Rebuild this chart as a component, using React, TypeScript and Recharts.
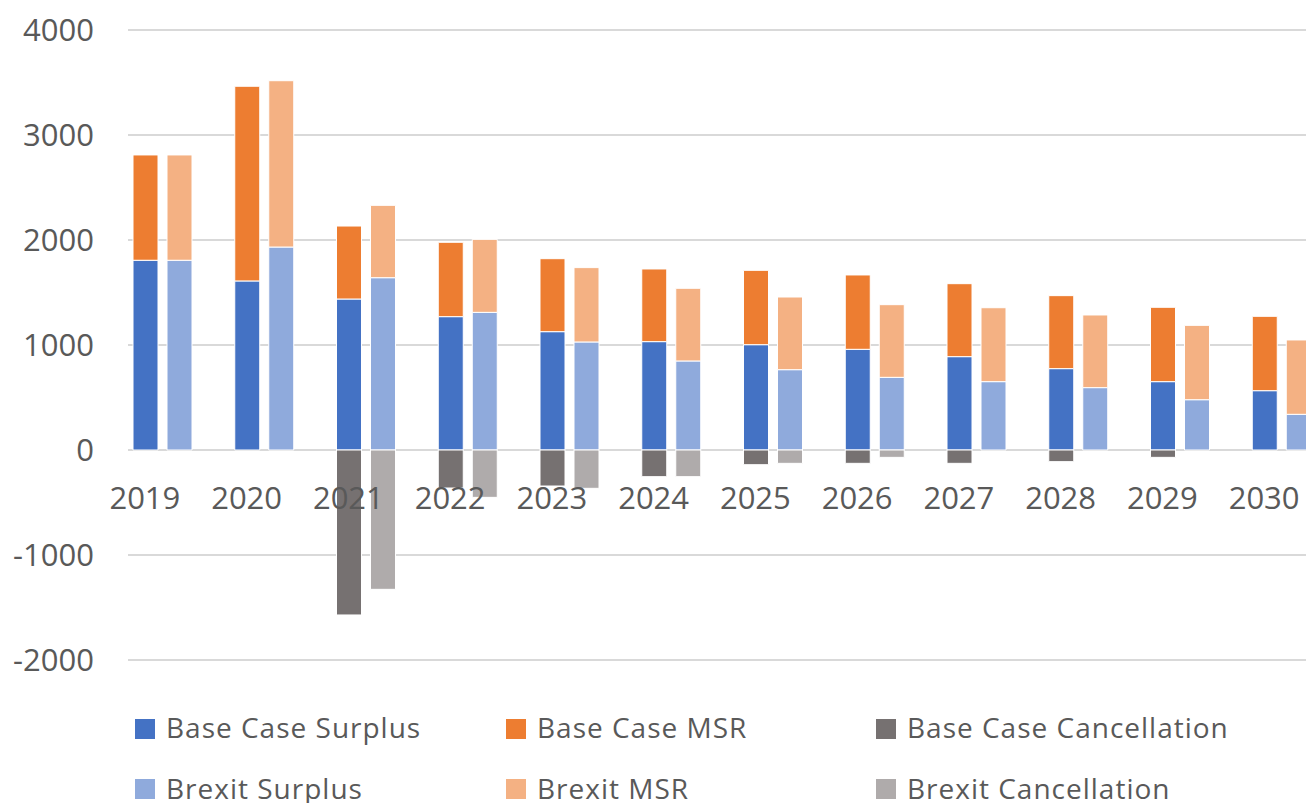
import { BarChart, Bar, XAxis, YAxis, CartesianGrid, Legend } from "recharts";

const years = ["2019", "2020", "2021", "2022", "2023", "2024", "2025", "2026", "2027", "2028", "2029", "2030"];

const baseSurplus = [1807, 1610, 1438, 1270, 1127, 1032, 1003, 959, 889, 775, 651, 565];
const baseMsr = [1003, 1854, 695, 708, 695, 692, 708, 708, 695, 695, 708, 708];
const baseCancellation = [0, 0, -1571, -362, -343, -254, -140, -127, -127, -111, -70, 0];

const brexitSurplus = [1807, 1933, 1641, 1311, 1029, 848, 765, 692, 651, 594, 479, 340];
const brexitMsr = [1003, 1584, 689, 695, 708, 692, 692, 692, 704, 692, 708, 708];
const brexitCancellation = [0, 0, -1327, -451, -365, -254, -127, -70, 0, 0, 0, 0];

const yTicks = [-2000, -1000, 0, 1000, 2000, 3000, 4000];

const series = [
  { key: "baseSurplus", name: "Base Case Surplus", color: "#4472C4", stack: "base" },
  { key: "baseMsr", name: "Base Case MSR", color: "#ED7D31", stack: "base" },
  { key: "baseCancellation", name: "Base Case Cancellation", color: "#767171", stack: "base" },
  { key: "brexitSurplus", name: "Brexit Surplus", color: "#8FAADC", stack: "brexit" },
  { key: "brexitMsr", name: "Brexit MSR", color: "#F4B183", stack: "brexit" },
  { key: "brexitCancellation", name: "Brexit Cancellation", color: "#AFABAB", stack: "brexit" },
];

const chartData = years.map((year, i) => ({
  year,
  baseSurplus: baseSurplus[i],
  baseMsr: baseMsr[i],
  baseCancellation: baseCancellation[i],
  brexitSurplus: brexitSurplus[i],
  brexitMsr: brexitMsr[i],
  brexitCancellation: brexitCancellation[i],
}));

const TEXT = "#595959";
const FONT = "'Open Sans', sans-serif";

// year labels sit just under the zero line, not at the bottom of the plot
function YearTick(props: any) {
  const { x, y, payload } = props;
  return (
    <text x={x - 18} y={y - 159} textAnchor="middle" fill={TEXT} fontSize={31} fontFamily={FONT}>
      {payload.value}
    </text>
  );
}

function LegendGrid() {
  const cols = [135, 506, 876];
  return (
    <div style={{ position: "relative", width: 1306, height: 130, fontFamily: FONT }}>
      {series.map((s, i) => {
        const col = cols[i % 3];
        const row = Math.floor(i / 3);
        return (
          <div key={s.key}>
            <div
              style={{
                position: "absolute",
                left: col,
                top: 58 + row * 60,
                width: 20,
                height: 20,
                background: s.color,
              }}
            />
            <span
              style={{
                position: "absolute",
                left: col + 31,
                top: 52 + row * 61,
                fontSize: 28,
                letterSpacing: 1,
                lineHeight: "28px",
                color: TEXT,
                whiteSpace: "nowrap",
              }}
            >
              {s.name}
            </span>
          </div>
        );
      })}
    </div>
  );
}

export default function App() {
  return (
    <div
      style={{
        position: "fixed",
        top: 0,
        left: 0,
        width: 1306,
        height: 803,
        overflow: "hidden",
        background: "#fff",
        fontFamily: FONT,
      }}
    >
      <BarChart
        width={1345}
        height={820}
        data={chartData}
        margin={{ top: 30, right: 12, bottom: 29, left: 0 }}
        stackOffset="sign"
        barSize={25}
        barGap={9}
      >
        <CartesianGrid vertical={false} stroke="#D9D9D9" strokeWidth={2} />
        <XAxis
          dataKey="year"
          height={1}
          axisLine={false}
          tickLine={false}
          interval={0}
          padding={{ left: -16, right: 0 }}
          tick={<YearTick />}
        />
        <YAxis
          width={128}
          domain={[-2000, 4000]}
          ticks={yTicks}
          axisLine={false}
          tickLine={false}
          tickMargin={28}
          tick={{ fill: TEXT, fontSize: 31, fontFamily: FONT }}
        />
        <Legend
          verticalAlign="bottom"
          content={() => <LegendGrid />}
          wrapperStyle={{ left: 0, top: 661, width: 1306 }}
        />
        {series.map((s) => (
          <Bar
            key={s.key}
            dataKey={s.key}
            name={s.name}
            stackId={s.stack}
            fill={s.color}
            stroke="#ffffff"
            strokeWidth={1}
            isAnimationActive={false}
          />
        ))}
      </BarChart>
    </div>
  );
}
